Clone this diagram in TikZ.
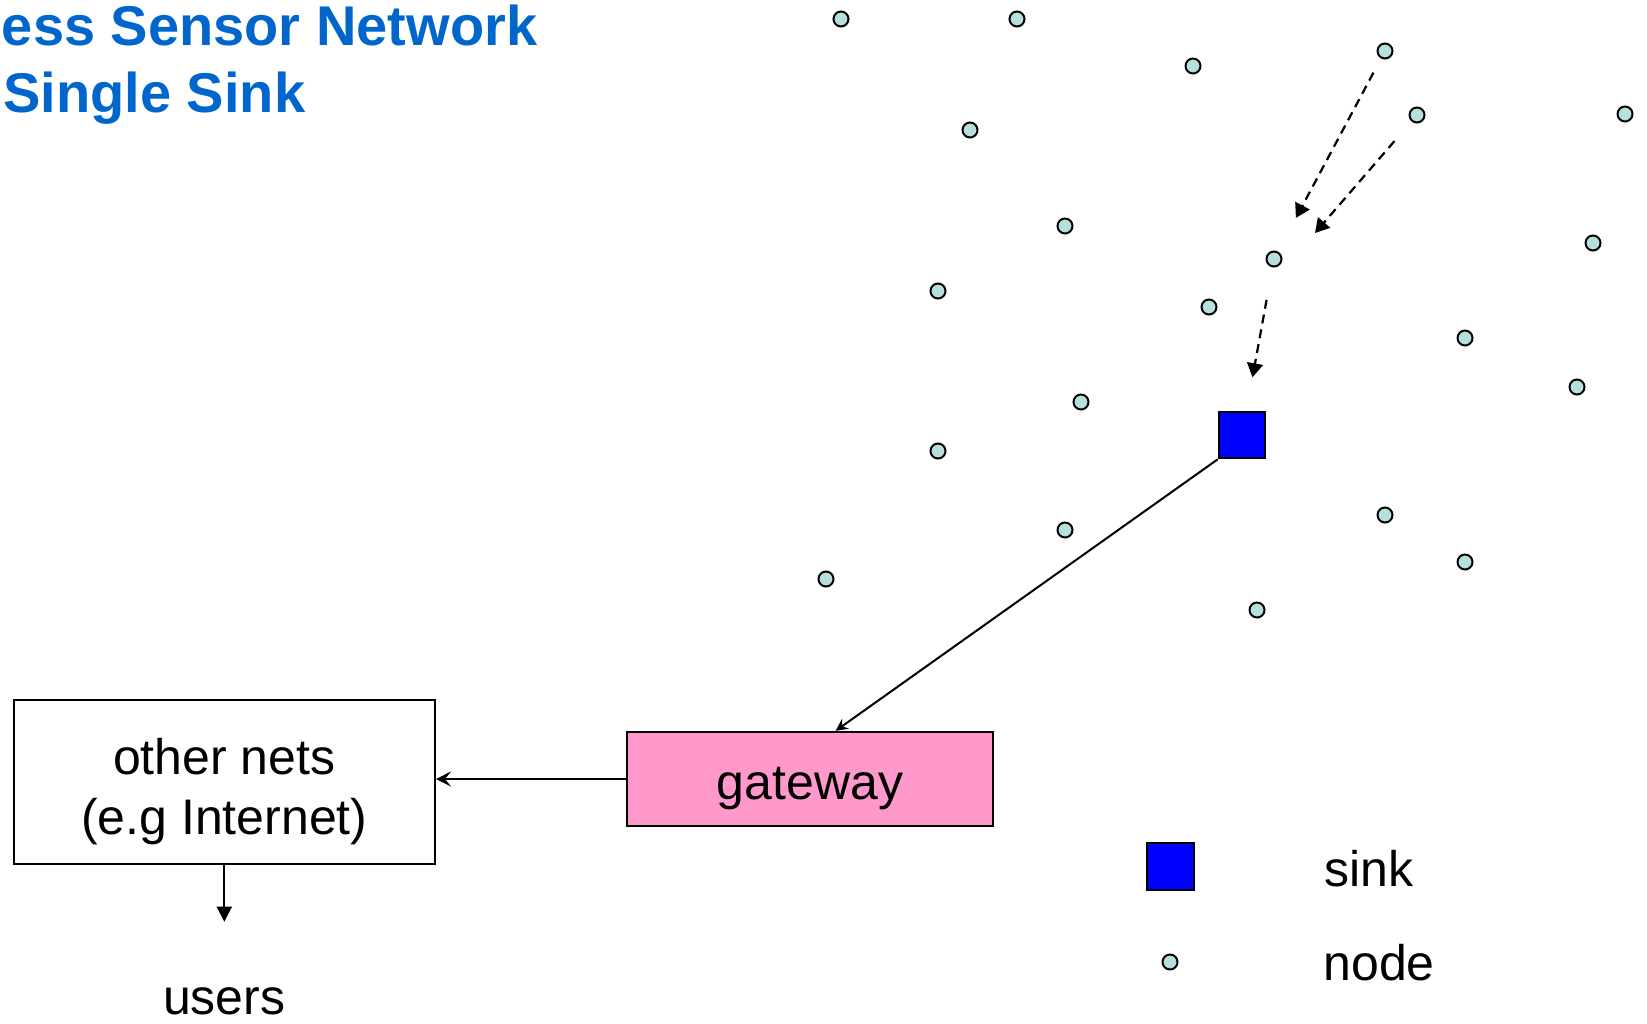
\documentclass[tikz,border=0pt]{standalone}
\usepackage{fontspec}
\setmainfont{Liberation Sans}
\usepackage{xcolor}
\usepackage{tikz}
\usetikzlibrary{shapes.geometric, positioning, arrows.meta, calc}

\definecolor{sensorfill}{RGB}{185,222,222}
\definecolor{sinkblue}{RGB}{0,0,255}
\definecolor{gatepink}{RGB}{255,153,204}
\definecolor{titleblue}{RGB}{0,102,204}

\begin{document}
\begin{tikzpicture}[
    x=0.5pt,y=-0.5pt,
    sensor/.style={draw, circle, line width=1pt, fill=sensorfill, minimum size=7.5pt, inner sep=0pt},
    sinkbox/.style={draw, rectangle, line width=1pt, fill=sinkblue, minimum size=23.3pt, inner sep=0pt},
    netbox/.style={draw, rectangle, line width=1pt, fill=white, minimum width=210.7pt, minimum height=82pt, inner sep=0pt},
    gatebox/.style={draw, rectangle, line width=1.2pt, fill=gatepink, minimum width=183pt, minimum height=47pt, inner sep=0pt},
    caption/.style={inner sep=0pt, font=\fontsize{25}{30}\selectfont},
    heading/.style={inner sep=0pt, anchor=base west, text=titleblue, font=\fontsize{28}{34}\selectfont\bfseries},
    relay/.style={line width=1.1pt, dash pattern=on 4.5pt off 3pt, -{Triangle[length=7pt,width=8pt]}}
]
    \useasboundingbox (0,0) rectangle (1647,1023);

    % --- Title ---
    \node[heading] (title1) at (1.5,45) {ess Sensor Network};
    \node[heading] (title2) at (3,112) {Single Sink};

    % --- Sensor nodes ---
    \node[sensor] (s1) at (841,19) {};
    \node[sensor] (s2) at (1017,19) {};
    \node[sensor] (s3) at (1193,66) {};
    \node[sensor] (s4) at (1385,51) {};
    \node[sensor] (s5) at (1417,115) {};
    \node[sensor] (s6) at (1625,114) {};
    \node[sensor] (s7) at (970,130) {};
    \node[sensor] (s8) at (1065,226) {};
    \node[sensor] (s9) at (1274,259) {};
    \node[sensor] (s10) at (1593,243) {};
    \node[sensor] (s11) at (938,291) {};
    \node[sensor] (s12) at (1209,307) {};
    \node[sensor] (s13) at (1465,338) {};
    \node[sensor] (s14) at (1577,387) {};
    \node[sensor] (s15) at (1081,402) {};
    \node[sensor] (s16) at (938,451) {};
    \node[sensor] (s17) at (1065,530) {};
    \node[sensor] (s18) at (1385,515) {};
    \node[sensor] (s19) at (1465,562) {};
    \node[sensor] (s20) at (826,579) {};
    \node[sensor] (s21) at (1257,610) {};

    % --- Sink, gateway, other nets ---
    \node[sinkbox] (sink) at (1242,435) {};
    \node[gatebox] (gateway) at (810,779) {};
    \node[caption] (gateway_txt) at ([yshift=-4.75pt]gateway.center) {gateway};
    \node[netbox] (others) at (224.3,781.5) {};
    \node[caption, align=center] (others_txt) at ([yshift=-5.25pt]others.center) {other nets\\(e.g Internet)};
    \node[caption, anchor=base] (users) at (224.3,1014) {users};

    % --- Multi-hop paths ---
    \coordinate (b_tip) at (1315,233);
    \draw[relay, shorten <=8pt, shorten >=19pt] (s4) -- (s9);
    \draw[relay, shorten <=13pt] (s5) -- (b_tip);
    \draw[relay, shorten <=16.5pt, shorten >=17pt] (s9) -- (sink);

    % --- Links ---
    \draw[line width=1pt, -{Stealth[length=6pt,width=6pt,inset=2pt]}] (sink.south west) -- (gateway.62);
    \draw[line width=1pt, -{Stealth[length=7.5pt,width=7.5pt,inset=3pt]}] (gateway.west) -- (gateway.west -| others.east);
    \draw[line width=1pt, -{Triangle[length=7.5pt,width=7.5pt]}, shorten >=32.5pt] (others) -- (users);

    % --- Legend ---
    \node[sinkbox] (key_sink) at (1170.5,866.5) {};
    \node[sensor] (key_node) at (1170,962) {};
    \node[caption, anchor=base west] (lbl_sink) at (1324,886) {sink};
    \node[caption, anchor=base west] (lbl_node) at (1323,980) {node};

\end{tikzpicture}
\end{document}
